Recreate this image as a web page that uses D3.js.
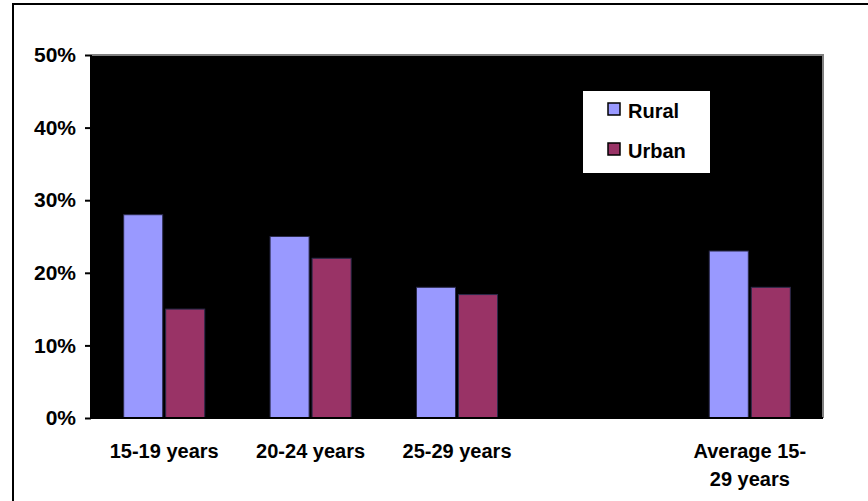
<!DOCTYPE html>
<html lang="en">
<head>
  <meta charset="utf-8">
  <title>Rural and Urban by age group</title>
  <style>
  body { margin: 0; background: #fff; }
  svg { display: block; font-family: "Liberation Sans", Arial, sans-serif; }
  .axis text { font-size: 20px; font-weight: bold; fill: #000; }
  .axis--y text { font-size: 21px; }
  .axis path { display: none; }
  .axis line { stroke: #000; stroke-width: 2; }
  .legend text { font-size: 20px; font-weight: bold; }
  </style>
  <script src="https://cdn.jsdelivr.net/npm/d3@7"></script>
</head>
<body>
  <svg width="868" height="501"></svg>
  <script>
  // data (percent)
  var categories = ["15-19 years", "20-24 years", "25-29 years", " ", "Average 15-\n29 years"];
  var series = ["Rural", "Urban"];
  var rural = [28, 25, 18, null, 23];
  var urban = [15, 22, 17, null, 18];
  var yTicks = [0, 10, 20, 30, 40, 50];
  var colors = ["#9999ff", "#993366"];

  var values = [rural, urban];
  var data = categories.map(function(c, i) {
    return { cat: c, vals: series.map(function(s, j) { return { key: s, value: values[j][i] }; }) };
  });

  var svg = d3.select("svg"),
      margin = {top: 55, left: 91, right: 45, bottom: 83},
      width = +svg.attr("width") - margin.left - margin.right,
      height = +svg.attr("height") - margin.top - margin.bottom;

  // outer frame (only left and top edges show in the picture)
  svg.append("rect")
      .attr("x", 13).attr("y", 4)
      .attr("width", 900).attr("height", 600)
      .attr("fill", "none")
      .attr("stroke", "#000")
      .attr("stroke-width", 2);

  var g = svg.append("g").attr("transform", "translate(" + margin.left + "," + margin.top + ")");

  var x0 = d3.scaleBand().domain(categories).range([0, width]).padding(0);
  var x1 = d3.scaleBand().domain(series).range([0, x0.bandwidth()])
      .paddingInner(0.071).paddingOuter(0.778);
  var y = d3.scaleLinear().domain([0, 50]).range([height, 0]);
  var z = d3.scaleOrdinal().domain(series).range(colors);

  // plot area
  g.append("rect")
      .attr("width", width).attr("height", height)
      .attr("fill", "#000");
  g.append("path")
      .attr("d", "M0,0H" + width + "V" + height)
      .attr("fill", "none")
      .attr("stroke", "#808080")
      .attr("stroke-width", 2);

  var group = g.selectAll(".group")
    .data(data)
    .enter().append("g")
      .attr("class", "group")
      .attr("transform", function(d) { return "translate(" + x0(d.cat) + ",0)"; });

  group.selectAll("rect")
    .data(function(d) { return d.vals.filter(function(v) { return v.value != null; }); })
    .enter().append("rect")
      .attr("x", function(d) { return x1(d.key); })
      .attr("y", function(d) { return y(d.value); })
      .attr("width", x1.bandwidth())
      .attr("height", function(d) { return height - y(d.value); })
      .attr("fill", function(d) { return z(d.key); })
      .attr("stroke", "#2a2a4a")
      .attr("stroke-width", 1);

  // axes
  g.append("g")
      .attr("class", "axis axis--y")
      .call(d3.axisLeft(y).tickValues(yTicks).tickSize(6).tickPadding(9)
        .tickFormat(function(d) { return d + "%"; }));

  g.append("line")
      .attr("x1", -1).attr("x2", width)
      .attr("y1", height).attr("y2", height)
      .attr("stroke", "#000").attr("stroke-width", 2);
  g.append("line")
      .attr("x1", 0).attr("x2", 0)
      .attr("y1", 0).attr("y2", height)
      .attr("stroke", "#000").attr("stroke-width", 2);

  var xAxis = g.append("g")
      .attr("class", "axis axis--x")
      .attr("transform", "translate(0," + height + ")")
      .call(d3.axisBottom(x0).tickSize(0));
  xAxis.selectAll("text")
      .text(null)
      .attr("y", 0).attr("dy", null)
      .selectAll("tspan")
      .data(function(d) { return d.split("\n"); })
      .enter().append("tspan")
        .attr("x", 0)
        .attr("y", function(d, i) { return 40 + i * 28; })
        .text(function(d) { return d; });

  // legend
  var legend = svg.append("g").attr("class", "legend").attr("transform", "translate(583,91)");
  legend.append("rect")
      .attr("width", 127).attr("height", 82)
      .attr("fill", "#fff");
  var item = legend.selectAll(".item")
    .data(series)
    .enter().append("g")
      .attr("class", "item")
      .attr("transform", function(d, i) { return "translate(25," + (12 + i * 40) + ")"; });
  item.append("rect")
      .attr("width", 12).attr("height", 12)
      .attr("fill", function(d) { return z(d); })
      .attr("stroke", "#000")
      .attr("stroke-width", 1.5);
  item.append("text")
      .attr("x", 20).attr("y", 15)
      .text(function(d) { return d; });
  </script>
</body>
</html>
